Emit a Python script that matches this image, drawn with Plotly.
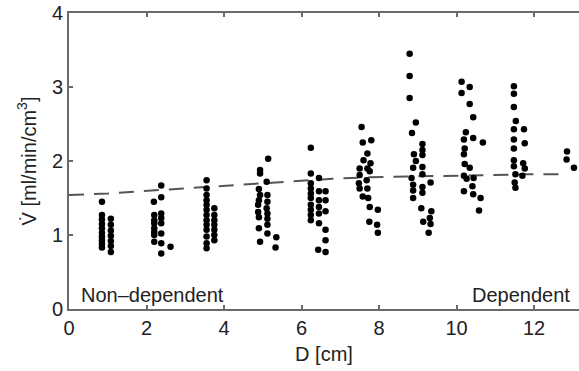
import plotly.graph_objects as go

# ---- data ----
g1_d = [0.85]*10 + [1.08]*7
g1_v = [1.45, 1.27, 1.21, 1.15, 1.09, 1.03, 0.98, 0.93, 0.88, 0.83,
        1.22, 1.14, 1.06, 0.99, 0.92, 0.85, 0.77]

g2_d = [2.38, 2.19, 2.38] + [2.2]*7 + [2.38]*6 + [2.62]
g2_v = [1.67, 1.45, 1.51,
        1.27, 1.20, 1.16, 1.09, 1.04, 1.00, 0.91,
        1.29, 1.23, 1.16, 1.02, 0.89, 0.75,
        0.84]

g3_d = [3.55]*13 + [3.75]*7
g3_v = [1.74, 1.63, 1.54, 1.47, 1.41, 1.34, 1.27, 1.20, 1.14, 1.07, 0.98, 0.89, 0.82,
        1.36, 1.27, 1.20, 1.14, 1.07, 1.00, 0.93]

g4_d = [5.14, 4.93, 4.93, 5.10, 4.90, 4.93, 5.12, 4.90, 5.12, 4.88, 5.10, 4.88,
        5.12, 4.90, 5.12, 4.90, 5.12, 5.12, 4.93, 5.35, 5.33]
g4_v = [2.03, 1.88, 1.83, 1.72, 1.62, 1.54, 1.54, 1.47, 1.45, 1.41, 1.36, 1.31,
        1.29, 1.24, 1.22, 1.09, 1.14, 1.02, 0.91, 0.97, 0.83]

g5_d = [6.24, 6.24, 6.45] + [6.24]*8 + [6.45]*5 + [6.62]*6 + [6.43]
g5_v = [2.18, 1.83, 1.77,
        1.70, 1.63, 1.56, 1.50, 1.41, 1.34, 1.27, 1.20,
        1.59, 1.47, 1.38, 1.29, 1.16,
        1.59, 1.47, 1.32, 1.07, 0.93, 0.77,
        0.80]

g6_d = [7.55, 7.58, 7.80, 7.70, 7.60, 7.78, 7.50, 7.70, 7.50, 7.76, 7.48, 7.68,
        7.50, 7.70, 7.58, 7.72, 7.76, 7.75, 7.97, 7.95, 7.97]
g6_v = [2.46, 2.25, 2.28, 2.10, 2.01, 1.97, 1.90, 1.90, 1.81, 1.86, 1.70, 1.74,
        1.63, 1.63, 1.52, 1.50, 1.38, 1.18, 1.34, 1.14, 1.03]

g7_d = [8.79, 8.79, 8.79, 8.95, 8.85, 9.12, 9.12, 8.90, 9.12, 8.95, 8.88, 9.12, 9.12,
        8.84, 9.33, 8.88, 9.12, 8.88, 9.12, 8.88, 9.09, 9.35, 9.14, 9.31, 9.33, 9.28]
g7_v = [3.45, 3.15, 2.85, 2.52, 2.38, 2.23, 2.15, 2.09, 2.08, 2.00, 1.91, 1.92, 1.82,
        1.77, 1.71, 1.68, 1.65, 1.60, 1.57, 1.50, 1.36, 1.32, 1.18, 1.23, 1.15, 1.03]

g8_d = [10.13, 10.34, 10.13, 10.34, 10.43, 10.24, 10.19, 10.43, 10.68, 10.21, 10.19,
        10.21, 10.34, 10.19, 10.26, 10.44, 10.41, 10.19, 10.43, 10.62, 10.58]
g8_v = [3.07, 3.00, 2.92, 2.77, 2.59, 2.39, 2.29, 2.31, 2.25, 2.17, 2.09,
        1.96, 1.91, 1.80, 1.76, 1.77, 1.66, 1.59, 1.55, 1.50, 1.33]

g9_d = [11.48, 11.48, 11.48, 11.53, 11.48, 11.74, 11.48, 11.76, 11.48, 11.48, 11.48,
        11.72, 11.76, 11.70, 11.52, 11.50, 11.52]
g9_v = [3.01, 2.91, 2.73, 2.54, 2.43, 2.43, 2.29, 2.24, 2.17, 2.01, 1.93,
        1.97, 1.90, 1.80, 1.82, 1.71, 1.64]

g10_d = [12.85, 12.84, 13.03]
g10_v = [2.13, 2.02, 1.91]

fit_d = [0, 1.0, 1.8, 2.7, 3.5, 4.3, 5.5, 6.8, 7.7, 8.5, 9.3, 10.0, 10.9, 11.8, 12.8]
fit_v = [1.54, 1.56, 1.59, 1.62, 1.645, 1.68, 1.72, 1.76, 1.78, 1.79, 1.80, 1.80, 1.81, 1.82, 1.82]

x_ticks = [0, 2, 4, 6, 8, 10, 12]
y_ticks = [0, 1, 2, 3, 4]

D = g1_d + g2_d + g3_d + g4_d + g5_d + g6_d + g7_d + g8_d + g9_d + g10_d
V = g1_v + g2_v + g3_v + g4_v + g5_v + g6_v + g7_v + g8_v + g9_v + g10_v

FONT = "Liberation Sans, Arial, Helvetica, sans-serif"
AX = "#6a6a6a"

fig = go.Figure()
fig.add_trace(go.Scatter(x=fit_d, y=fit_v, mode="lines",
                         line=dict(color="#555555", width=2, dash="15px,10px"),
                         hoverinfo="skip", showlegend=False))
fig.add_trace(go.Scatter(x=D, y=V, mode="markers",
                         marker=dict(color="black", size=6.5),
                         showlegend=False))

fig.add_annotation(x=0.25, y=0.19, xref="x", yref="y", text="Non\u2013dependent",
                   showarrow=False, xanchor="left", yanchor="middle",
                   font=dict(family=FONT, size=20, color="#222"))
fig.add_annotation(x=12.98, y=0.19, xref="x", yref="y", text="Dependent",
                   showarrow=False, xanchor="right", yanchor="middle",
                   font=dict(family=FONT, size=20, color="#222"))

fig.update_layout(
    width=579, height=371,
    margin=dict(l=69, r=0, t=13, b=62),
    paper_bgcolor="white", plot_bgcolor="white",
    font=dict(family=FONT, size=20, color="#222"),
    xaxis=dict(range=[0, 13.16], tickvals=x_ticks, ticks="inside", ticklen=4,
               tickcolor=AX, tickwidth=1.5,
               showline=True, linecolor=AX, linewidth=2, mirror="ticks",
               showgrid=False, zeroline=False,
               title=dict(text="D [cm]", standoff=9, font=dict(size=20))),
    yaxis=dict(range=[0, 4], tickvals=y_ticks, ticks="inside", ticklen=4,
               tickcolor=AX, tickwidth=1.5,
               showline=True, linecolor=AX, linewidth=2, mirror=False,
               showgrid=False, zeroline=False,
               title=dict(text="V\u0307 [ml/min/cm<sup>3</sup>]", standoff=10,
                          font=dict(size=20))),
)

fig.write_html("out.html")
